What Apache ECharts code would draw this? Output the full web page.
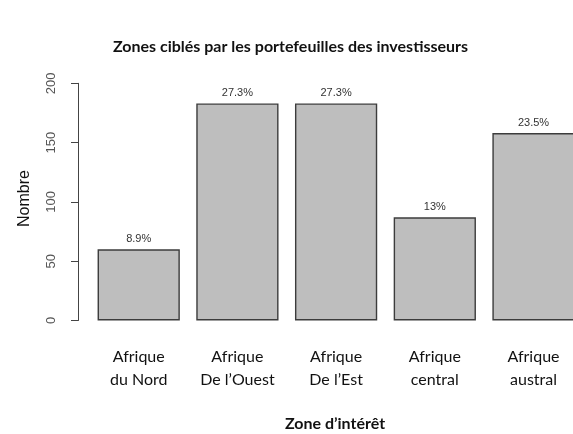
<!DOCTYPE html>
<html>
<head>
<meta charset="utf-8">
<script src="https://cdn.jsdelivr.net/npm/echarts@6/dist/echarts.min.js"></script>
<style>html,body{margin:0;padding:0;background:#fff;}#c{width:573px;height:434px;}</style>
</head>
<body>
<div id="c"></div>
<script>
const categories = ['Afrique\ndu Nord', 'Afrique\nDe l\u2019Ouest', 'Afrique\nDe l\u2019Est', 'Afrique\ncentral', 'Afrique\naustral'];
const values = [60, 183, 183, 87, 158];
const pctLabels = ['8.9%', '27.3%', '27.3%', '13%', '23.5%'];
const yTicks = [0, 50, 100, 150, 200];

const chart = echarts.init(document.getElementById('c'), null, {renderer: 'canvas'});
chart.setOption({
  backgroundColor: '#ffffff',
  animation: false,
  grid: {left: 89.35, width: 493.5, top: 83.3, height: 237.2, containLabel: false, outerBoundsMode: 'none'},
  xAxis: {
    type: 'category',
    data: categories,
    axisLine: {show: false},
    axisTick: {show: false},
    axisLabel: {fontFamily: 'Lato', fontSize: 16, lineHeight: 23, color: '#111', margin: 25, interval: 0}
  },
  yAxis: {
    type: 'value',
    min: yTicks[0], max: yTicks[yTicks.length - 1], interval: 50,
    offset: 11.35,
    splitLine: {show: false},
    axisLine: {show: true, lineStyle: {color: '#444', width: 1}},
    axisTick: {show: true, length: 7, lineStyle: {color: '#444'}},
    axisLabel: {rotate: 90, fontFamily: 'Liberation Sans', fontSize: 13, color: '#555', margin: 20}
  },
  series: [{
    type: 'bar',
    data: values,
    barWidth: '83.33%',
    itemStyle: {color: '#bebebe', borderColor: '#3c3c3c', borderWidth: 1.4},
    label: {
      show: true, position: 'top', distance: 5,
      fontFamily: 'Liberation Sans', fontSize: 11, color: '#333',
      formatter: p => pctLabels[p.dataIndex]
    }
  }],
  graphic: [
    {type: 'text', x: 290.5, y: 46.7, style: {text: 'Zones ciblés par les portefeuilles des investisseurs', font: 'bold 16px Lato', fill: '#111', textAlign: 'center', textVerticalAlign: 'middle'}},
    {type: 'text', x: 335, y: 424, style: {text: 'Zone d\u2019intérêt', font: 'bold 16px Lato', fill: '#111', textAlign: 'center', textVerticalAlign: 'middle'}},
    {type: 'text', x: 24.5, y: 198.5, rotation: Math.PI / 2, style: {text: 'Nombre', font: '16px "Liberation Sans"', fill: '#111', textAlign: 'center', textVerticalAlign: 'middle'}}
  ]
});
</script>
</body>
</html>
